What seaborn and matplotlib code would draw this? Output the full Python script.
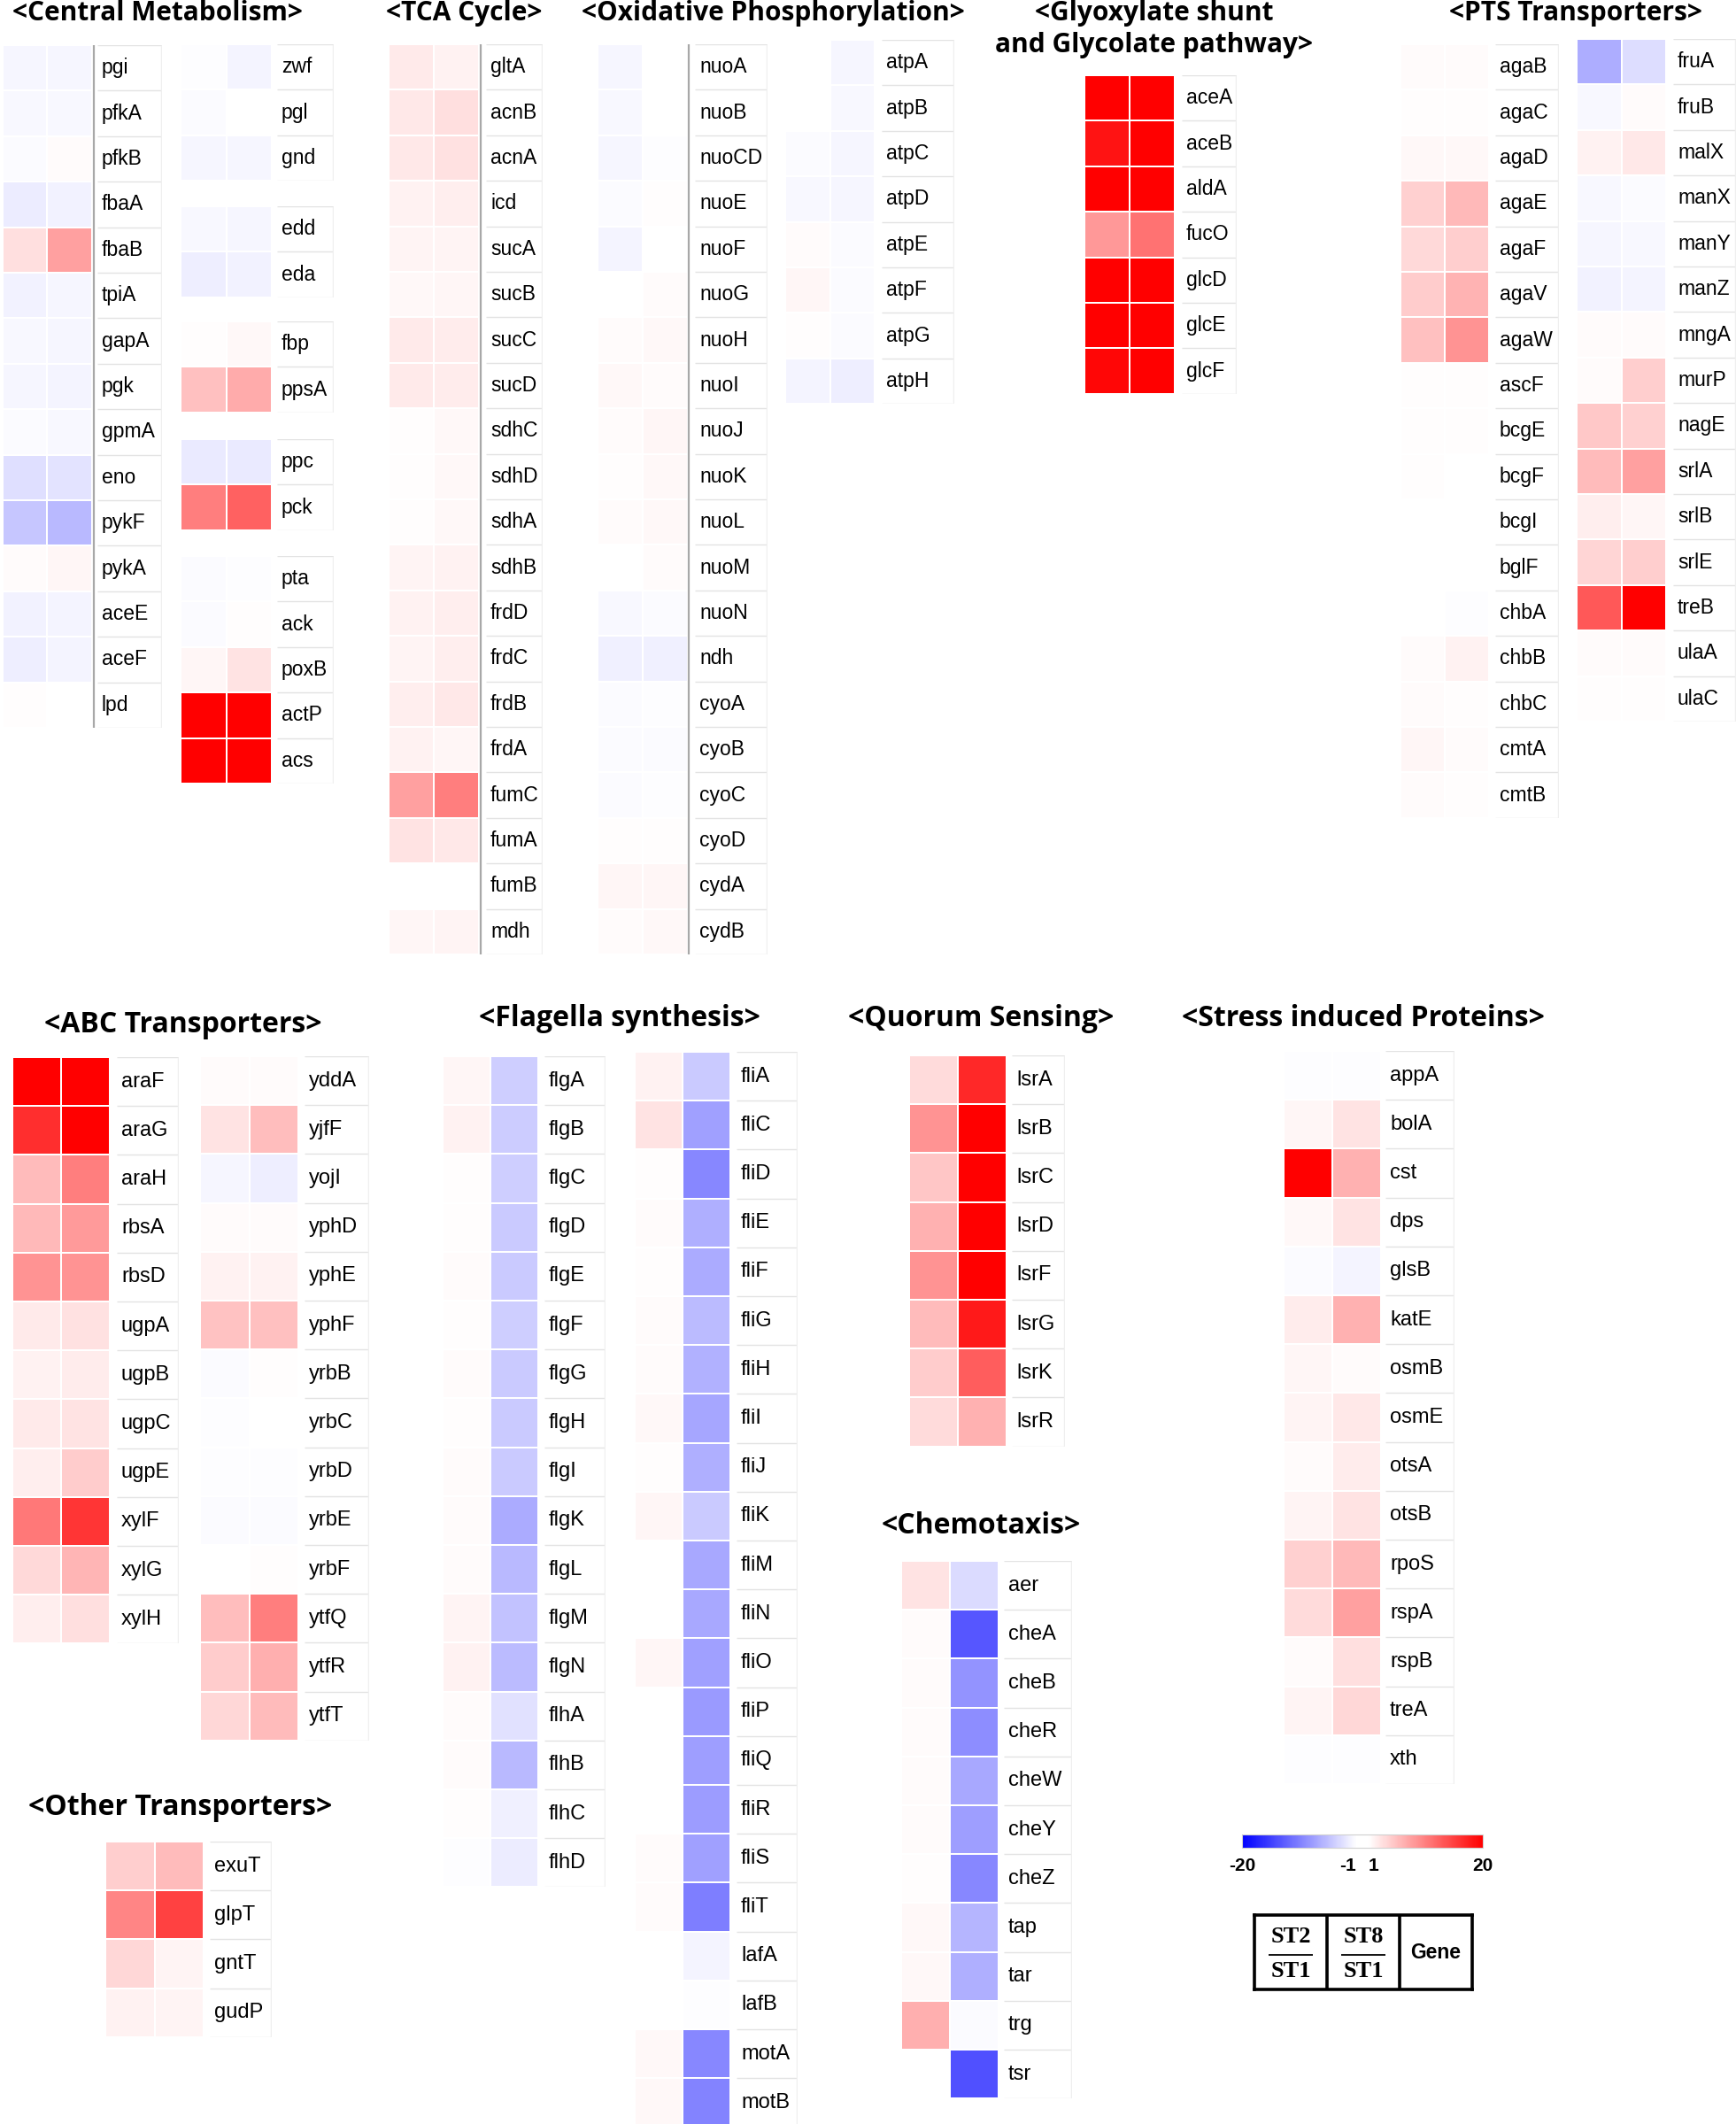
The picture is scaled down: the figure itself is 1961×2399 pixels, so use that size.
import numpy as np
import pandas as pd
import matplotlib
matplotlib.use('Agg')
import matplotlib.pyplot as plt
import seaborn as sns
from matplotlib.colors import LinearSegmentedColormap

# ---- data: fold change (ST2/ST1, ST8/ST1) per gene ----
cm1_genes = ['pgi', 'pfkA', 'pfkB', 'fbaA', 'fbaB', 'tpiA', 'gapA', 'pgk', 'gpmA', 'eno',
             'pykF', 'pykA', 'aceE', 'aceF', 'lpd']
cm1_st2 = [-1.6, -1.5, -1.4, -2.5, 3.3, -1.9, -1.5, -1.6, -1.3, -3.3, -5.2, 1.4, -2.0, -2.2, 1.2]
cm1_st8 = [-1.6, -1.5, 1.3, -2.0, 8.0, -1.7, -1.6, -1.8, -1.5, -3.0, -6.1, 1.6, -1.8, -1.8, 0.5]

ppp_genes = ['zwf', 'pgl', 'gnd']
ppp_st2 = [-1.2, -1.3, -1.7]
ppp_st8 = [-1.8, 0.5, -1.7]
ed_genes = ['edd', 'eda']
ed_st2 = [-1.5, -2.3]
ed_st8 = [-1.6, -1.9]
gng_genes = ['fbp', 'ppsA']
gng_st2 = [1.2, 5.7]
gng_st8 = [1.5, 7.3]
ana_genes = ['ppc', 'pck']
ana_st2 = [-2.6, 10.5]
ana_st8 = [-2.6, 12.8]
ace_genes = ['pta', 'ack', 'poxB', 'actP', 'acs']
ace_st2 = [-1.4, -1.3, 1.7, 20, 20]
ace_st8 = [-1.2, 1.1, 3.0, 20, 20]

tca_genes = ['gltA', 'acnB', 'acnA', 'icd', 'sucA', 'sucB', 'sucC', 'sucD', 'sdhC', 'sdhD',
             'sdhA', 'sdhB', 'frdD', 'frdC', 'frdB', 'frdA', 'fumC', 'fumA', 'fumB', 'mdh']
tca_st2 = [2.5, 2.8, 2.8, 2.0, 1.8, 1.5, 2.6, 2.6, 1.2, 1.2, 1.2, 1.8, 2.0, 1.8, 2.2, 2.0, 8.0, 3.0, 0.6, 1.6]
tca_st8 = [1.9, 3.4, 3.2, 2.2, 1.8, 1.6, 2.4, 2.4, 1.5, 1.5, 1.5, 1.9, 2.3, 2.2, 2.7, 1.6, 10.5, 2.7, 0.8, 1.8]

ox_genes = ['nuoA', 'nuoB', 'nuoCD', 'nuoE', 'nuoF', 'nuoG', 'nuoH', 'nuoI', 'nuoJ', 'nuoK',
            'nuoL', 'nuoM', 'nuoN', 'ndh', 'cyoA', 'cyoB', 'cyoC', 'cyoD', 'cydA', 'cydB']
ox_st2 = [-1.7, -1.5, -1.7, -1.3, -1.8, 0.5, 1.4, 1.5, 1.4, 1.2, 1.3, 0.5, -1.5, -2.1, -1.3, -1.4, -1.4, 1.2, 1.6, 1.4]
ox_st8 = [0.5, 0.6, -1.2, 1.2, 0.4, 1.4, 1.5, 1.4, 1.6, 1.5, 1.5, 1.4, -1.3, -2.1, -1.2, -1.3, -1.2, 1.2, 1.6, 1.5]

atp_genes = ['atpA', 'atpB', 'atpC', 'atpD', 'atpE', 'atpF', 'atpG', 'atpH']
atp_st2 = [0.5, 0.5, -1.3, -1.5, 1.3, 1.6, 1.2, -1.8]
atp_st8 = [-1.6, -1.5, -1.6, -1.7, -1.4, -1.4, -1.4, -2.2]

gly_genes = ['aceA', 'aceB', 'aldA', 'fucO', 'glcD', 'glcE', 'glcF']
gly_st2 = [20, 18.5, 20, 8.6, 20, 20, 19.5]
gly_st8 = [20, 20, 20, 11.5, 20, 20, 20]

pts1_genes = ['agaB', 'agaC', 'agaD', 'agaE', 'agaF', 'agaV', 'agaW', 'ascF', 'bcgE', 'bcgF',
              'bcgI', 'bglF', 'chbA', 'chbB', 'chbC', 'cmtA', 'cmtB']
pts1_st2 = [1.3, 1.1, 1.5, 4.4, 3.8, 4.8, 5.7, 1.2, 1.2, 1.1, 0.8, 0.8, 0.8, 1.3, 1.4, 1.6, 1.3]
pts1_st8 = [1.3, 1.2, 1.5, 6.1, 4.6, 6.7, 9.0, 1.1, 1.1, 0.8, 0.8, 0.8, -1.1, 2.0, 1.2, 1.4, 1.1]

pts2_genes = ['fruA', 'fruB', 'malX', 'manX', 'manY', 'manZ', 'mngA', 'murP', 'nagE', 'srlA',
              'srlB', 'srlE', 'treB', 'ulaA', 'ulaC']
pts2_st2 = [-7.1, -1.5, 2.0, -1.5, -1.6, -2.0, 1.3, 1.4, 5.0, 6.0, 2.2, 4.2, 13.4, 1.3, 1.1]
pts2_st8 = [-3.5, 1.3, 2.7, -1.3, -1.5, -1.8, 1.4, 4.6, 4.4, 8.0, 1.6, 4.6, 20, 1.4, 1.2]

abc1_genes = ['araF', 'araG', 'araH', 'rbsA', 'rbsD', 'ugpA', 'ugpB', 'ugpC', 'ugpE', 'xylF', 'xylG', 'xylH']
abc1_st2 = [20, 16.5, 6.0, 6.2, 9.0, 2.6, 2.0, 2.6, 2.2, 11.0, 3.8, 2.2]
abc1_st8 = [20, 20, 10.5, 8.5, 9.0, 3.2, 2.4, 3.0, 4.8, 16.0, 6.5, 3.4]

abc2_genes = ['yddA', 'yjfF', 'yojI', 'yphD', 'yphE', 'yphF', 'yrbB', 'yrbC', 'yrbD', 'yrbE',
              'yrbF', 'ytfQ', 'ytfR', 'ytfT']
abc2_st2 = [1.4, 3.0, -1.6, 1.3, 2.0, 5.6, -1.3, -1.2, -1.2, -1.4, 0.5, 5.8, 4.8, 4.0]
abc2_st8 = [1.4, 5.8, -2.2, 1.4, 2.0, 5.7, 1.1, 0.5, -1.1, -1.4, 1.1, 10.5, 7.0, 6.0]

oth_genes = ['exuT', 'glpT', 'gntT', 'gudP']
oth_st2 = [4.6, 10.0, 4.0, 2.0]
oth_st8 = [6.0, 15.0, 1.8, 1.8]

flg_genes = ['flgA', 'flgB', 'flgC', 'flgD', 'flgE', 'flgF', 'flgG', 'flgH', 'flgI', 'flgK',
             'flgL', 'flgM', 'flgN', 'flhA', 'flhB', 'flhC', 'flhD']
flg_st2 = [1.6, 1.9, 1.2, 1.2, 1.3, 1.2, 1.3, 1.2, 1.4, 1.3, 1.3, 1.8, 1.9, 1.3, 1.4, 1.2, -1.1]
flg_st8 = [-4.6, -4.8, -4.6, -4.9, -4.9, -4.6, -4.9, -5.0, -4.9, -7.2, -6.2, -5.5, -6.0, -3.2, -6.2, -2.1, -2.5]

fli_genes = ['fliA', 'fliC', 'fliD', 'fliE', 'fliF', 'fliG', 'fliH', 'fliI', 'fliJ', 'fliK', 'fliM',
             'fliN', 'fliO', 'fliP', 'fliQ', 'fliR', 'fliS', 'fliT', 'lafA', 'lafB', 'motA', 'motB']
fli_st2 = [2.0, 3.0, 1.2, 1.3, 1.2, 1.3, 1.3, 1.5, 1.2, 1.6, 0.8, 0.8, 1.6, 0.5, 0.5, 0.5, 1.4, 1.4, 0.5, 0.5, 1.5, 1.5]
fli_st8 = [-5.0, -8.0, -10.0, -7.0, -7.2, -6.0, -6.8, -7.6, -7.0, -5.0, -7.5, -7.5, -8.0, -8.5, -8.2, -8.4, -8.0,
           -10.5, -1.8, -1.1, -10.0, -10.3]

qs_genes = ['lsrA', 'lsrB', 'lsrC', 'lsrD', 'lsrF', 'lsrG', 'lsrK', 'lsrR']
qs_st2 = [3.6, 9.0, 5.2, 6.8, 9.0, 6.0, 4.8, 3.6]
qs_st8 = [17.0, 20, 20, 20, 20, 18.0, 13.0, 6.8]

che_genes = ['aer', 'cheA', 'cheB', 'cheR', 'cheW', 'cheY', 'cheZ', 'tap', 'tar', 'trg', 'tsr']
che_st2 = [3.0, 1.3, 1.4, 1.4, 1.3, 1.3, 1.2, 1.5, 1.5, 7.0, 0.5]
che_st8 = [-3.6, -13.5, -9.0, -9.5, -7.5, -8.2, -10.0, -6.5, -7.0, -1.4, -14.0]

str_genes = ['appA', 'bolA', 'cst', 'dps', 'glsB', 'katE', 'osmB', 'osmE', 'otsA', 'otsB',
             'rpoS', 'rspA', 'rspB', 'treA', 'xth']
str_st2 = [-1.2, 1.7, 20, 1.5, -1.4, 2.4, 1.6, 1.8, 1.4, 1.8, 4.4, 3.6, 1.4, 1.8, -1.2]
str_st8 = [-1.2, 3.0, 6.8, 3.0, -1.8, 6.8, 1.3, 2.8, 2.4, 3.0, 6.2, 8.0, 3.4, 4.0, -1.2]

cbar_ticks = [-20, -1, 1, 20]

# ---- style ----
W, H = 1961, 2399
plt.rcParams['font.family'] = ['Liberation Sans', 'DejaVu Sans']
TITLE_FONT = ['Open Sans', 'DejaVu Sans']

cmap = LinearSegmentedColormap.from_list(
    'fc', [(0, '#0000ff'), (0.475, '#ffffff'), (0.525, '#ffffff'), (1, '#ff0000')])

fig = plt.figure(figsize=(W / 100, H / 100), dpi=100)


def px_axes(x, y, w, h):
    return fig.add_axes([x / W, 1 - (y + h) / H, w / W, h / H])


def draw_block(genes, st2, st8, x, y, rh, cw, lx, lw, fs, sep=None):
    n = len(genes)
    df = pd.DataFrame({'ST2/ST1': st2, 'ST8/ST1': st8}, index=genes)
    ax = px_axes(x, y, 2 * cw, n * rh)
    sns.heatmap(df, ax=ax, cmap=cmap, vmin=-20, vmax=20, cbar=False,
                linewidths=1.3, linecolor='white', xticklabels=False, yticklabels=False)
    ax.set_xlabel('')
    ax.set_ylabel('')
    lab = px_axes(lx, y, lw, n * rh)
    lab.set_xlim(0, lw)
    lab.set_ylim(n, 0)
    lab.axis('off')
    for i, g in enumerate(genes):
        lab.text(5, i + 0.5, g, va='center', ha='left', fontsize=fs)
    lab.hlines(range(n + 1), 0, lw, color='#e3e3e3', lw=1)
    lab.vlines(lw - 1, 0, n, color='#efefef', lw=1)
    if sep is not None:
        lab.vlines(sep - lx, 0, n, color='#a8a8a8', lw=1.6, clip_on=False)
    return ax


def title(s, cx, cy, fs):
    fig.text(cx / W, 1 - cy / H, s, ha='center', va='center', fontsize=fs,
             fontweight='bold', family=TITLE_FONT)


# ---- top row ----
RT = 51.4
TS = 21.5
title('<Central Metabolism>', 178, 15, TS)
hm = draw_block(cm1_genes, cm1_st2, cm1_st8, 3, 51, RT, 50.5, 110, 73, 16.5, sep=106)
draw_block(ppp_genes, ppp_st2, ppp_st8, 204, 50, RT, 51.5, 313, 64, 16.5)
draw_block(ed_genes, ed_st2, ed_st8, 204, 233, RT, 51.5, 313, 64, 16.5)
draw_block(gng_genes, gng_st2, gng_st8, 204, 363, RT, 51.5, 313, 64, 16.5)
draw_block(ana_genes, ana_st2, ana_st8, 204, 496, RT, 51.5, 313, 64, 16.5)
draw_block(ace_genes, ace_st2, ace_st8, 204, 628, RT, 51.5, 313, 64, 16.5)

title('<TCA Cycle>', 524, 15, TS)
draw_block(tca_genes, tca_st2, tca_st8, 439, 50, RT, 51, 549, 64, 16.5, sep=543)

title('<Oxidative Phosphorylation>', 873, 15, TS)
draw_block(ox_genes, ox_st2, ox_st8, 675, 50, RT, 51, 785, 82, 16.5, sep=778)
draw_block(atp_genes, atp_st2, atp_st8, 887, 45, RT, 50.5, 996, 82, 16.5)

title('<Glyoxylate shunt', 1304, 15, TS)
title('and Glycolate pathway>', 1304, 51, TS)
draw_block(gly_genes, gly_st2, gly_st8, 1225, 85, RT, 51, 1335, 62, 16.5)

title('<PTS Transporters>', 1780, 15, TS)
draw_block(pts1_genes, pts1_st2, pts1_st8, 1582, 50, RT, 50, 1689, 72, 16.5)
draw_block(pts2_genes, pts2_st2, pts2_st8, 1781, 44, RT, 50.5, 1890, 71, 16.5)

# ---- bottom row ----
RB = 55.2
BS = 23
title('<ABC Transporters>', 207, 1158, BS)
draw_block(abc1_genes, abc1_st2, abc1_st8, 14, 1194, RB, 55, 132, 70, 17)
draw_block(abc2_genes, abc2_st2, abc2_st8, 226, 1193, RB, 55.5, 344, 73, 17)

title('<Other Transporters>', 204, 2041, BS)
draw_block(oth_genes, oth_st2, oth_st8, 119, 2080, RB, 55.5, 237, 70, 17)

title('<Flagella synthesis>', 700, 1151, BS)
draw_block(flg_genes, flg_st2, flg_st8, 500, 1193, RB, 54, 615, 69, 17)
draw_block(fli_genes, fli_st2, fli_st8, 717, 1188, RB, 54, 832, 69, 17)

title('<Quorum Sensing>', 1108, 1151, BS)
draw_block(qs_genes, qs_st2, qs_st8, 1027, 1192, RB, 55, 1143, 60, 17)

title('<Chemotaxis>', 1108, 1723, BS)
draw_block(che_genes, che_st2, che_st8, 1018, 1763, RB, 55, 1134, 77, 17)

title('<Stress induced Proteins>', 1540, 1151, BS)
draw_block(str_genes, str_st2, str_st8, 1450, 1187, RB, 55, 1565, 78, 17)

# ---- colour bar ----
cax = px_axes(1403, 2072, 272, 15)
cb = fig.colorbar(hm.collections[0], cax=cax, orientation='horizontal', ticks=cbar_ticks)
cb.outline.set_edgecolor('#d0d0d0')
cb.outline.set_linewidth(0.8)
cax.tick_params(length=0, pad=8, labelsize=15)
cax.set_xticklabels([str(t) for t in cbar_ticks], fontweight='bold')
tl = cax.get_xticklabels()
tl[1].set_ha('right')
tl[2].set_ha('left')

# ---- legend box ----
lg = px_axes(1417, 2163, 246, 84)
lg.set_xlim(0, 3)
lg.set_ylim(1, 0)
lg.set_xticks([])
lg.set_yticks([])
for s in lg.spines.values():
    s.set_linewidth(2.6)
lg.vlines([1, 2], 0, 1, color='black', lw=2.6)
for k, top in enumerate(['ST2', 'ST8']):
    lg.text(k + 0.5, 0.29, top, ha='center', va='center', fontsize=19,
            fontweight='bold', family='Liberation Serif')
    lg.hlines(0.53, k + 0.2, k + 0.8, color='black', lw=1.3)
    lg.text(k + 0.5, 0.76, 'ST1', ha='center', va='center', fontsize=19,
            fontweight='bold', family='Liberation Serif')
lg.text(2.5, 0.5, 'Gene', ha='center', va='center', fontsize=16.5, fontweight='bold')

fig.savefig('out.png', dpi=100)
